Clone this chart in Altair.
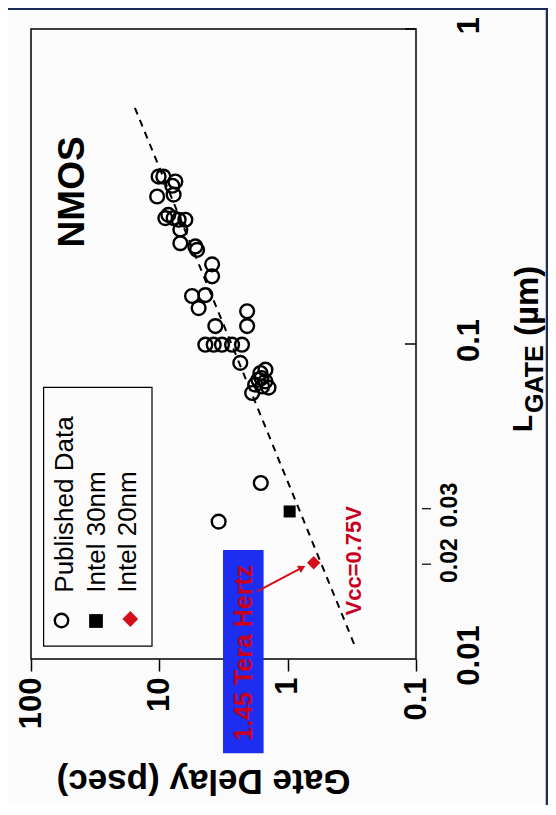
import altair as alt
import pandas as pd

FONT = "Liberation Sans"

# ---- data ----
pub_delay = [10.13, 9.31, 7.50, 10.4, 7.74, 8.98, 7.74, 7.07, 6.27, 6.86, 6.86, 5.24, 5.08,
             3.88, 3.88, 5.56, 4.38, 4.94, 3.66, 2.07, 2.07, 4.38, 3.77, 3.25, 2.71, 2.27,
             2.34, 1.63, 1.49, 1.89, 1.58, 1.49, 1.69, 1.41, 1.79, 1.60, 8.51, 7.92, 1.62, 3.45]
pub_lgate = [0.340, 0.340, 0.328, 0.294, 0.298, 0.251, 0.251, 0.248, 0.248, 0.231, 0.209, 0.204, 0.199,
             0.179, 0.164, 0.142, 0.143, 0.130, 0.114, 0.127, 0.114, 0.0995, 0.0995, 0.0995, 0.0995, 0.0995,
             0.0871, 0.0809, 0.0761, 0.0699, 0.0733, 0.0829, 0.0770, 0.0727, 0.0743, 0.0780, 0.257, 0.318,
             0.0362, 0.0273]
intel30_delay = [0.965]
intel30_lgate = [0.0294]
intel20_delay = [0.627]
intel20_lgate = [0.0202]
trend_delay = [15.5, 0.302]
trend_lgate = [0.562, 0.0111]
arrow_delay = [1.73, 0.772]
arrow_lgate = [0.0164, 0.0195]
box_delay = [3.19, 1.54]
box_lgate = [0.0222, 0.00502]
nmos_pos = [46.8, 0.304]
vcc_pos = [0.302, 0.0205]
thz_pos = [2.18, 0.01047]
legend_labels = ["Published Data", "Intel 30nm", "Intel 20nm"]
x_ticks = [100, 10, 1, 0.1]
y_ticks = [0.01, 0.02, 0.03, 0.1, 1]
y_major = [0.1, 1]
y_minor = [0.02, 0.03]

W, H = 385, 630
RED = "#d40f1a"
TXT_RED = "#c8001e"
BLUE = "#1e2ef0"
NAVY = "#1d2b5c"

xs = alt.Scale(type="log", domain=[0.1, 100], reverse=True, nice=False)
ys = alt.Scale(type="log", domain=[0.01, 1], nice=False)

small = "datum.value > 0.015 && datum.value < 0.05"
xaxis = alt.Axis(values=x_ticks, format="~g", labelAngle=270, labelAlign="right",
                 labelBaseline="middle", labelFontSize=31, labelFontWeight="bold",
                 labelPadding=6, labelFlush=False, labelOverlap=False,
                 tickSize=12, tickWidth=1.5, tickColor="black", domain=False, grid=False,
                 title="Gate Delay (psec)", titleAngle=180, titleFontSize=35,
                 titleFontWeight="bold", titleX=172, titleY=121, titleAlign="center",
                 titleBaseline="middle")
yaxis = alt.Axis(orient="right", values=y_ticks, format="~g", labelAngle=270,
                 labelAlign="center", labelBaseline="top",
                 labelFontSize={"condition": {"test": small, "value": 23}, "value": 31},
                 labelPadding={"condition": {"test": small, "value": 22}, "value": 38},
                 labelFontWeight="bold", labelFlush=False, labelOverlap=False, labelOffset=-4,
                 ticks=False, domain=False, grid=False, title=None)


def X(f="d"):
    return alt.X(f, type="quantitative", scale=xs, axis=xaxis)


def Y(f="L"):
    return alt.Y(f, type="quantitative", scale=ys, axis=yaxis)


one = pd.DataFrame({"k": [0]})

pub = pd.DataFrame({"d": pub_delay, "L": pub_lgate})
i30 = pd.DataFrame({"d": intel30_delay, "L": intel30_lgate})
i20 = pd.DataFrame({"d": intel20_delay, "L": intel20_lgate})
trend = pd.DataFrame({"d": trend_delay, "L": trend_lgate})
arrow = pd.DataFrame({"d": [arrow_delay[0]], "L": [arrow_lgate[0]],
                      "d2": [arrow_delay[1]], "L2": [arrow_lgate[1]]})
tip = pd.DataFrame({"d": [arrow_delay[1]], "L": [arrow_lgate[1]]})
box = pd.DataFrame({"d": [box_delay[0]], "d2": [box_delay[1]],
                    "L": [box_lgate[0]], "L2": [box_lgate[1]]})
nmos = pd.DataFrame({"d": [nmos_pos[0]], "L": [nmos_pos[1]], "t": ["NMOS"]})
vcc = pd.DataFrame({"d": [vcc_pos[0]], "L": [vcc_pos[1]], "t": ["Vcc=0.75V"]})
thz = pd.DataFrame({"d": [thz_pos[0]], "L": [thz_pos[1]], "t": ["1.45 Tera Hertz"]})
leg = pd.DataFrame({"label": legend_labels, "row": list(range(len(legend_labels)))})
ymaj = pd.DataFrame({"L": y_major})
ymin = pd.DataFrame({"L": y_minor})

layers = []

# slide decoration
layers.append(alt.Chart(one).mark_rule(color=NAVY, strokeWidth=3).encode(
    x=alt.value(-23), x2=alt.value(517), y=alt.value(-20.5)))
layers.append(alt.Chart(one).mark_rule(color=NAVY, strokeWidth=3).encode(
    x=alt.value(-23), x2=alt.value(503), y=alt.value(777.5)))
layers.append(alt.Chart(one).mark_rule(color=NAVY, strokeWidth=2.5).encode(
    x=alt.value(516), y=alt.value(-20), y2=alt.value(777)))

# y-axis ticks
layers.append(alt.Chart(ymaj).mark_rule(color="black", strokeWidth=1.5).encode(
    y=Y(), x=alt.value(W - 11), x2=alt.value(W)))
layers.append(alt.Chart(ymin).mark_rule(color="black", strokeWidth=1.2).encode(
    y=Y(), x=alt.value(W + 6), x2=alt.value(W + 15)))

# trend line
layers.append(alt.Chart(trend).mark_line(color="black", strokeWidth=2, strokeDash=[7, 6]).encode(
    x=X(), y=Y()))

# data
layers.append(alt.Chart(pub).mark_point(shape="circle", filled=False, color="black", size=190,
                                        strokeWidth=2.4, opacity=1).encode(x=X(), y=Y()))
layers.append(alt.Chart(i30).mark_point(shape="square", filled=True, color="black", size=144,
                                        opacity=1).encode(x=X(), y=Y()))
layers.append(alt.Chart(i20).mark_point(shape="diamond", filled=True, color=RED, size=180,
                                        opacity=1).encode(x=X(), y=Y()))

# blue box + annotation
layers.append(alt.Chart(box).mark_rect(color=BLUE, clip=False).encode(
    x=X(), x2="d2", y=Y(), y2="L2"))
layers.append(alt.Chart(thz).mark_text(angle=270, font=FONT, fontSize=25, fontWeight="bold",
                                       color=TXT_RED, align="center", baseline="middle",
                                       clip=False).encode(x=X(), y=Y(), text="t"))
layers.append(alt.Chart(arrow).mark_rule(color=RED, strokeWidth=2).encode(
    x=X(), y=Y(), x2="d2", y2="L2"))
layers.append(alt.Chart(tip).mark_point(shape="triangle-right", filled=True, color=RED, size=70,
                                        angle=332, opacity=1).encode(x=X(), y=Y()))
layers.append(alt.Chart(vcc).mark_text(angle=270, font=FONT, fontSize=22, fontWeight="bold",
                                       color=TXT_RED, align="center", baseline="middle").encode(
    x=X(), y=Y(), text="t"))
layers.append(alt.Chart(nmos).mark_text(angle=270, font=FONT, fontSize=37, fontWeight="bold",
                                        color="black", align="center", baseline="middle").encode(
    x=X(), y=Y(), text="t"))

# legend
layers.append(alt.Chart(one).mark_rect(fillOpacity=0, stroke="black", strokeWidth=1.2).encode(
    x=alt.value(12.6), x2=alt.value(121), y=alt.value(358.4), y2=alt.value(617.2)))
layers.append(alt.Chart(leg).transform_calculate(lx="42 + 31.5 * datum.row").mark_text(
    angle=270, font=FONT, fontSize=26, color="black", align="left", baseline="alphabetic").encode(
    x=alt.X("lx:Q", scale=None), y=alt.value(563.7), text="label:N"))
layers.append(alt.Chart(one).mark_point(shape="circle", filled=False, color="black", size=180,
                                        strokeWidth=2.4, opacity=1).encode(
    x=alt.value(30.5), y=alt.value(591.5)))
layers.append(alt.Chart(one).mark_point(shape="square", filled=True, color="black", size=190,
                                        opacity=1).encode(x=alt.value(65), y=alt.value(592)))
layers.append(alt.Chart(one).mark_point(shape="diamond", filled=True, color=RED, size=250,
                                        opacity=1).encode(x=alt.value(99.3), y=alt.value(590)))

# y-axis title with subscript
layers.append(alt.Chart(one).mark_text(angle=270, font=FONT, fontSize=28, fontWeight="bold",
                                       align="left", baseline="alphabetic", text="L").encode(
    x=alt.value(501), y=alt.value(403)))
layers.append(alt.Chart(one).mark_text(angle=270, font=FONT, fontSize=25, fontWeight="bold",
                                       align="left", baseline="alphabetic", text="GATE").encode(
    x=alt.value(512), y=alt.value(384)))
layers.append(alt.Chart(one).mark_text(angle=270, font=FONT, fontSize=33, fontWeight="bold",
                                       align="left", baseline="alphabetic", text="(µm)").encode(
    x=alt.value(507), y=alt.value(307)))

chart = alt.layer(*layers).properties(
    width=W, height=H,
    padding={"left": 23, "top": 21, "right": 132, "bottom": 146},
    autosize=alt.AutoSizeParams(type="none"),
    background="#fbfbfb",
).configure_view(stroke="black", strokeWidth=1.5, fill="#fcfcfc").configure_axis(
    labelFont=FONT, titleFont=FONT, labelColor="black", titleColor="black")

chart.save("out.html", embed_options={"renderer": "svg", "actions": False})
